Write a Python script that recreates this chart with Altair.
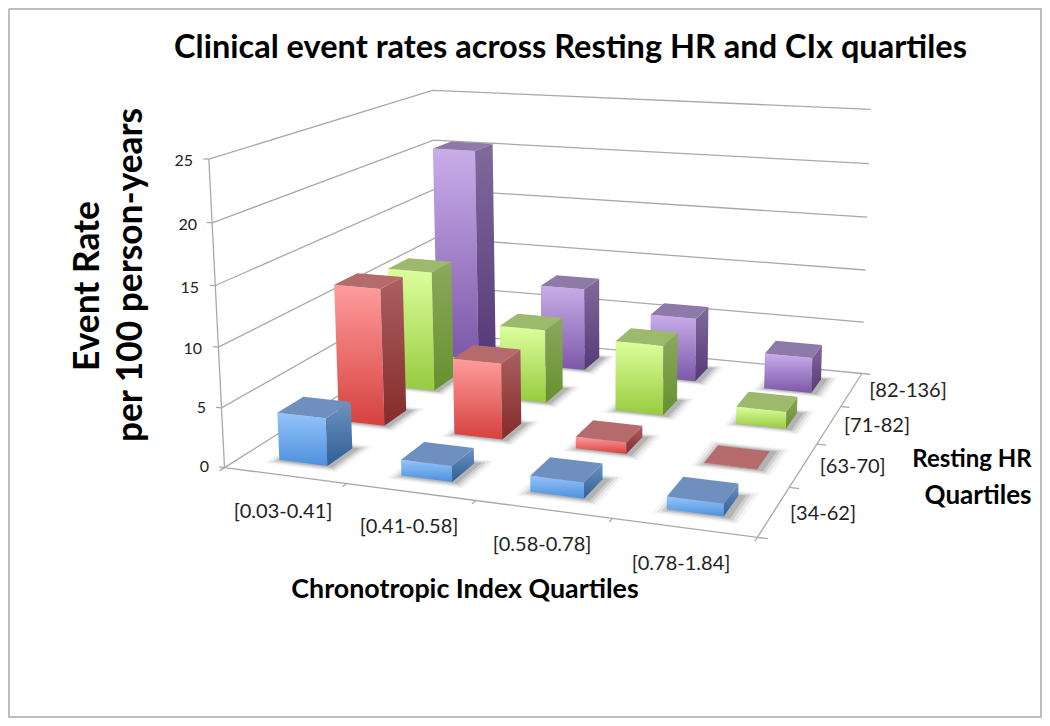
import altair as alt
import numpy as np
import pandas as pd

# ---- data ----
chronotropic = ["[0.03-0.41]", "[0.41-0.58]", "[0.58-0.78]", "[0.78-1.84]"]
resting_hr = ["[34-62]", "[63-70]", "[71-82]", "[82-136]"]
rate_34_62 = [4.0, 1.3, 1.3, 1.0]
rate_63_70 = [12.1, 6.6, 1.0, 0.03]
rate_71_82 = [11.1, 6.7, 6.3, 1.5]
rate_82_136 = [20.5, 7.9, 6.0, 3.3]
z_ticks = [0, 5, 10, 15, 20, 25]
series = [rate_34_62, rate_63_70, rate_71_82, rate_82_136]

# face colours per series: front gradient, side gradient, top
palette = [
    (("#93c4fb", "#4f90dc"), ("#6d92c0", "#2f5f96"), "#6f90bf"),
    (("#ff9c9c", "#d5413e"), ("#ab6060", "#842a2a"), "#b56b6b"),
    (("#dcff9c", "#97cb3f"), ("#8ba85c", "#66902e"), "#9cb96c"),
    (("#c8adea", "#7c57a8"), ("#806b9c", "#553978"), "#8d7aa9"),
]

# ---- 3D chart space (category, category, rate) -> page, calibrated on the axes ----
calib = [
    ((0, 0, 0), (225, 466)), ((1, 0, 0), (346.7, 483)), ((2, 0, 0), (475, 501.7)),
    ((3, 0, 0), (611, 520)), ((4, 0, 0), (754, 537.3)),
    ((4, 1, 0), (793, 487)), ((4, 2, 0), (820.7, 443)), ((4, 3, 0), (843, 405.7)),
    ((4, 4, 0), (859.5, 372)), ((0, 4, 0), (438, 338)),
    ((0, 0, 5), (221.7, 406.7)), ((0, 0, 10), (218, 346.7)), ((0, 0, 15), (216, 286)),
    ((0, 0, 20), (211.7, 223.3)), ((0, 0, 25), (209, 160)),
    ((4, 4, 5), (861.7, 321.7)), ((4, 4, 10), (864, 270)), ((4, 4, 15), (866.7, 217.3)),
    ((4, 4, 20), (869.3, 164.7)), ((4, 4, 25), (871.7, 110.7)),
    ((0, 4, 25), (433, 88.3)), ((0, 4, 20), (433, 138)),
]
A = []
for (X, Y, Z), (px, py) in calib:
    A.append([X, Y, Z, 1, 0, 0, 0, 0, -px * X, -px * Y, -px * Z, -px])
    A.append([0, 0, 0, 0, X, Y, Z, 1, -py * X, -py * Y, -py * Z, -py])
A = np.array(A, float)
P = np.linalg.svd(A)[2][-1].reshape(3, 4)
# reweight so the fit minimises the error in page pixels, not the algebraic one
X3 = np.array([[*p3, 1.0] for p3, _ in calib])
for _ in range(25):
    w = X3 @ P[2]
    w = np.repeat(1.0 / np.abs(w), 2)
    P = np.linalg.svd(A * w[:, None])[2][-1].reshape(3, 4)


def proj(u, v, z):
    h = P @ np.array([u, v, z, 1.0])
    return float(h[0] / h[2]), float(h[1] / h[2])


W, H = 1034, 710
x_enc = alt.X("x:Q", axis=None, scale=alt.Scale(domain=[8, 8 + W], zero=False, nice=False))
y_enc = alt.Y("y:Q", axis=None, scale=alt.Scale(domain=[8 + H, 8], zero=False, nice=False))


def grad(c):
    return alt.Gradient(gradient="linear", x1=0, y1=0, x2=0, y2=1,
                        stops=[alt.GradientStop(offset=0, color=c[0]),
                               alt.GradientStop(offset=1, color=c[1])])


def frame(pts):
    d = pd.DataFrame(pts, columns=["x", "y"])
    d["o"] = range(len(d))
    return d


def poly(pts3, fill, opacity=1.0):
    d = frame([proj(*p) for p in pts3])
    return alt.Chart(d).mark_line(fill=fill, strokeWidth=0, fillOpacity=opacity,
                                  clip=False).encode(x=x_enc, y=y_enc, order="o:Q")


def line(pts3, color="#a9a9a9", width=1.3):
    d = frame([proj(*p) for p in pts3])
    return alt.Chart(d).mark_line(color=color, strokeWidth=width).encode(
        x=x_enc, y=y_enc, order="o:Q")


def label(text, px, py, size, weight="normal", color="#222222", align="center", angle=0):
    d = pd.DataFrame({"x": [px], "y": [py], "t": [text]})
    return alt.Chart(d).mark_text(font="Lato", fontSize=size, fontWeight=weight, color=color,
                                  align=align, baseline="middle", angle=angle).encode(
        x=x_enc, y=y_enc, text="t:N")


layers = []
# outer frame
f = pd.DataFrame({"x": [9, 1041, 1041, 9, 9], "y": [9, 9, 717, 717, 9], "o": range(5)})
layers.append(alt.Chart(f).mark_line(color="#bdbdbd", strokeWidth=2).encode(x=x_enc, y=y_enc, order="o:Q"))

# walls: gridlines
for k in z_ticks:
    layers.append(line([(0, 0, k), (0, 4, k), (4, 4, k)]))
    layers.append(line([(0, 0, k), (-0.045, 0, k)]))
layers.append(line([(0, 0, 0), (0, 0, 25)]))
# floor axes and ticks
layers.append(line([(0, 0, 0), (4, 0, 0), (4, 4, 0)]))
for i in range(5):
    layers.append(line([(i, 0, 0), (i, -0.07, 0)]))
    layers.append(line([(4, i, 0), (4.07, i, 0)]))

# bars, back to front
a, b = 0.30, 0.70
c, d = 0.29, 0.71
for j in [3, 2, 1, 0]:
    for i in range(4):
        u0, u1, v0, v1 = i + a, i + b, j + c, j + d
        for e, op in [(0.10, 0.06), (0.075, 0.10), (0.05, 0.16), (0.025, 0.22)]:
            s = 0.025
            layers.append(poly([(u0 - e + s, v0 - e, 0), (u1 + e + s, v0 - e, 0),
                                (u1 + e + s, v1 + e, 0), (u0 - e + s, v1 + e, 0)],
                               "#555555", op))
for j in [3, 2, 1, 0]:
    front, side, top = palette[j]
    for i in range(4):
        z = series[j][i]
        u0, u1, v0, v1 = i + a, i + b, j + c, j + d
        layers.append(poly([(u0, v0, z), (u1, v0, z), (u1, v0, 0), (u0, v0, 0)], grad(front)))
        layers.append(poly([(u1, v0, z), (u1, v1, z), (u1, v1, 0), (u1, v0, 0)], grad(side)))
        layers.append(poly([(u0, v0, z), (u1, v0, z), (u1, v1, z), (u0, v1, z)], top))

# text
layers.append(label("Clinical event rates across Resting HR and CIx quartiles", 570.5, 48, 32.5, "bold", "#000000"))
layers.append(label("Event Rate", 88, 286, 35.3, "bold", "#000000", angle=270))
layers.append(label("per 100 person-years", 131, 275, 35.3, "bold", "#000000", angle=270))
layers.append(label("Chronotropic Index Quartiles", 465, 590, 26.8, "bold", "#000000"))
layers.append(label("Resting HR", 972, 460, 24, "bold", "#000000"))
layers.append(label("Quartiles", 978, 496, 26, "bold", "#000000"))
for t, px, py in zip(z_ticks, [209, 206, 202, 199, 197, 193], [467, 408, 349, 288, 225, 161]):
    layers.append(label(str(t), px, py, 16, align="right"))
for t, px, py in zip(chronotropic, [283, 409, 542, 681], [511.7, 527, 545, 564]):
    layers.append(label(t, px, py, 20))
for t, px, py in zip(resting_hr, [823, 852.7, 877, 908], [514, 467, 426, 391]):
    layers.append(label(t, px, py, 20))

chart = alt.layer(*layers).properties(
    width=W, height=H, padding=0,
    autosize=alt.AutoSizeParams(type="none"),
).configure_view(stroke=None).configure(background="#ffffff")

chart.save("out.html", embed_options={"renderer": "svg", "actions": False})
